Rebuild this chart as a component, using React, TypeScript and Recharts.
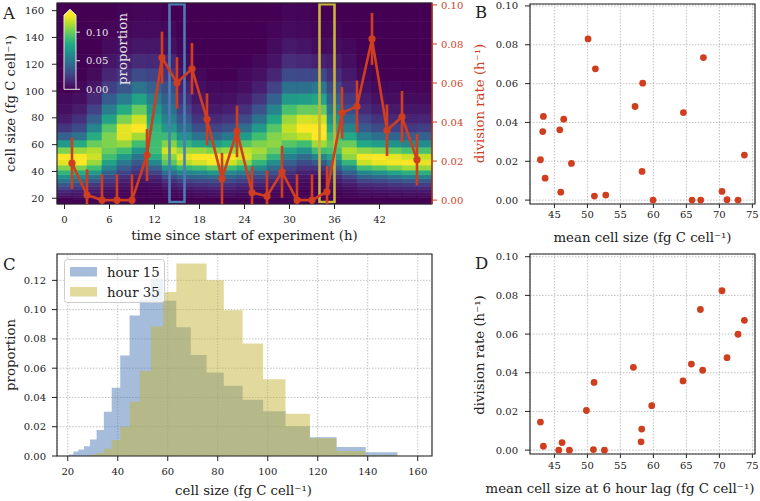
import React from "react";
import {
  Area,
  CartesianGrid,
  ComposedChart,
  ErrorBar,
  Legend,
  Line,
  ReferenceArea,
  Scatter,
  ScatterChart,
  XAxis,
  YAxis,
} from "recharts";

const FONT = "'DejaVu Serif', serif";
const INK = "#222222";
const RED = "#cf3f1f";
const BLUE = "#4b7cb5";
const KHAKI = "#c6b53a";
const GRID = "#b4b4b4";
const VMAX = 0.13;
const RATE_DOMAIN: [number, number] = [-0.002, 0.101];

// cell-size bin edges (fg C cell^-1), shared by the heatmap rows and the histogram
const sizeEdges = [
  15.7, 17.13, 18.69, 20.4, 22.26, 24.29, 26.5, 28.92, 31.56, 34.44, 37.58, 41.0, 44.74, 48.82,
  53.28, 58.14, 63.44, 69.23, 75.54, 82.43, 89.95, 98.16, 107.11, 116.88, 127.54, 139.17, 151.86,
  165.71,
];

// heatmap column centres (h)
const heatHours = [0, 2, 4, 6, 8, 10, 12, 14, 16, 18, 20, 22, 24, 26, 28, 30, 32, 34, 36, 38, 40, 42, 44, 46, 48];

// proportion per size bin (x1000), one list per heatmap column
const heatCols = [
  [0, 0, 0, 5, 10, 15, 25, 35, 50, 65, 85, 105, 125, 130, 105, 70, 40, 20, 10, 5, 3, 0, 0, 0, 0, 0, 0],
  [0, 0, 3, 5, 8, 12, 20, 30, 45, 60, 80, 105, 130, 130, 110, 80, 50, 30, 18, 10, 5, 3, 0, 0, 0, 0, 0],
  [0, 0, 3, 4, 7, 10, 15, 22, 35, 50, 70, 90, 110, 120, 115, 100, 80, 60, 40, 25, 15, 8, 4, 2, 0, 0, 0],
  [0, 0, 0, 2, 4, 6, 9, 14, 20, 30, 42, 58, 75, 90, 100, 105, 105, 95, 75, 55, 38, 24, 14, 8, 4, 2, 0],
  [0, 0, 0, 0, 2, 3, 5, 8, 12, 18, 26, 38, 52, 70, 90, 110, 125, 125, 105, 80, 55, 35, 20, 11, 6, 3, 1],
  [0, 0, 0, 0, 0, 0, 2, 4, 7, 11, 17, 25, 36, 50, 68, 90, 112, 130, 120, 100, 75, 50, 30, 16, 8, 4, 2],
  [0, 0, 0, 0, 0, 2, 3, 5, 9, 15, 25, 40, 60, 80, 90, 90, 88, 85, 78, 68, 55, 40, 26, 15, 8, 4, 2],
  [0, 0, 0, 1, 3, 4, 7, 11, 18, 30, 47, 69, 96, 107, 121, 106, 88, 69, 57, 48, 39, 31, 20, 13, 6, 3, 0],
  [0, 0, 0, 2, 4, 6, 10, 16, 25, 40, 60, 85, 115, 125, 110, 85, 65, 48, 36, 26, 18, 12, 7, 4, 2, 0, 0],
  [0, 0, 0, 2, 4, 7, 11, 18, 28, 42, 62, 90, 122, 130, 110, 75, 50, 32, 20, 13, 8, 5, 3, 0, 0, 0, 0],
  [0, 0, 0, 3, 5, 8, 13, 20, 30, 45, 68, 98, 128, 130, 105, 70, 42, 25, 15, 9, 5, 3, 0, 0, 0, 0, 0],
  [0, 0, 0, 3, 5, 8, 12, 18, 28, 42, 62, 90, 120, 128, 110, 80, 52, 32, 19, 11, 6, 3, 0, 0, 0, 0, 0],
  [0, 0, 0, 2, 4, 7, 10, 15, 24, 36, 54, 80, 108, 122, 118, 95, 70, 48, 30, 18, 10, 5, 3, 0, 0, 0, 0],
  [0, 0, 0, 2, 3, 5, 8, 12, 18, 28, 42, 62, 85, 105, 112, 105, 90, 70, 50, 33, 20, 11, 6, 3, 0, 0, 0],
  [0, 0, 0, 0, 2, 4, 6, 9, 14, 22, 32, 46, 64, 84, 100, 108, 106, 95, 78, 58, 40, 25, 14, 7, 4, 2, 0],
  [0, 0, 0, 0, 0, 2, 3, 5, 8, 12, 18, 27, 40, 56, 75, 95, 112, 118, 110, 92, 70, 48, 30, 17, 9, 4, 2],
  [0, 0, 0, 0, 0, 0, 2, 3, 5, 8, 12, 19, 30, 45, 65, 90, 118, 132, 122, 100, 72, 48, 28, 15, 7, 3, 1],
  [0, 0, 0, 0, 0, 0, 0, 1, 2, 5, 11, 20, 37, 58, 89, 112, 132, 132, 120, 100, 77, 53, 29, 12, 4, 1, 0],
  [0, 0, 0, 0, 0, 2, 4, 6, 10, 16, 25, 38, 55, 75, 92, 98, 92, 80, 66, 52, 40, 28, 18, 10, 5, 2, 0],
  [0, 0, 0, 0, 2, 4, 6, 10, 16, 26, 40, 60, 85, 108, 115, 100, 78, 58, 42, 30, 21, 14, 9, 5, 3, 0, 0],
  [0, 0, 0, 2, 4, 6, 10, 16, 26, 40, 60, 90, 120, 128, 108, 78, 55, 37, 25, 16, 10, 6, 3, 0, 0, 0, 0],
  [0, 0, 0, 2, 4, 7, 11, 17, 28, 44, 66, 96, 126, 130, 105, 72, 48, 30, 19, 11, 6, 3, 0, 0, 0, 0, 0],
  [0, 0, 0, 3, 5, 8, 13, 20, 32, 50, 75, 105, 128, 125, 98, 65, 42, 25, 15, 9, 5, 3, 0, 0, 0, 0, 0],
  [0, 0, 0, 3, 6, 9, 14, 22, 35, 55, 82, 112, 130, 120, 92, 60, 38, 22, 13, 8, 4, 2, 0, 0, 0, 0, 0],
  [0, 0, 0, 3, 6, 9, 15, 23, 36, 56, 82, 110, 125, 118, 92, 62, 40, 24, 14, 8, 4, 2, 0, 0, 0, 0, 0],
];

// division rate time series (panel A, right axis)
const hours = [1, 3, 5, 7, 9, 11, 13, 15, 17, 19, 21, 23, 25, 27, 29, 31, 33, 35, 37, 39, 41, 43, 45, 47];
const divRate = [
  0.0189, 0.0026, 0, 0, 0, 0.0231, 0.073, 0.0601, 0.0673, 0.0414, 0.011, 0.0352, 0.0039, 0.002,
  0.0145, 0, 0, 0.0043, 0.0447, 0.048, 0.0826, 0.0358, 0.0427, 0.0207,
];
const divErr = [
  0.0132, 0.0132, 0.0132, 0.0132, 0.0132, 0.0133, 0.0133, 0.0132, 0.0132, 0.0133, 0.0132, 0.0132,
  0.0133, 0.0132, 0.0133, 0.0132, 0.0132, 0.0132, 0.0132, 0.0133, 0.0133, 0.0132, 0.0132, 0.0132,
];
const boxHours = [15, 35];

// panel B: mean cell size vs division rate
const bSize = [
  42.88, 43.33, 43.23, 43.59, 45.81, 46.41, 45.96, 47.58, 50.1, 51.21, 51.06, 52.78, 57.22, 58.38,
  58.28, 59.95, 64.55, 65.86, 67.17, 67.58, 70.4, 71.16, 72.83, 73.79,
];
const bRate = [
  0.0208, 0.0431, 0.0353, 0.0113, 0.0362, 0.0417, 0.0041, 0.0189, 0.083, 0.0676, 0.0021, 0.0026,
  0.0482, 0.0602, 0.0148, 0, 0.0451, 0, 0, 0.0734, 0.0045, 0.0002, 0, 0.0232,
];

// panel D: mean cell size 6 h earlier vs division rate
const dSize = [
  42.88, 43.33, 45.66, 46.16, 47.27, 49.85, 50.91, 51.01, 52.58, 56.97, 58.13, 58.23, 59.75, 64.49,
  65.76, 67.12, 67.47, 70.4, 71.16, 72.83, 73.79,
];
const dRate = [
  0.0145, 0.002, 0, 0.0039, 0, 0.0205, 0.0003, 0.035, 0, 0.0428, 0.0043, 0.0109, 0.023, 0.0358,
  0.0445, 0.0727, 0.0413, 0.0824, 0.0478, 0.0599, 0.0671,
];

// panel C: size distributions (proportion per bin of sizeEdges)
const hour15 = [
  0, 0, 0, 0.001, 0.003, 0.0044, 0.0067, 0.0113, 0.0177, 0.0302, 0.0467, 0.0687, 0.096, 0.107,
  0.121, 0.106, 0.088, 0.069, 0.057, 0.048, 0.0385, 0.0305, 0.0204, 0.0128, 0.0062, 0.0025, 0,
];
const hour35 = [
  0, 0, 0, 0, 0, 0, 0, 0.001, 0.002, 0.005, 0.011, 0.02, 0.037, 0.058, 0.0885, 0.112, 0.1315,
  0.1315, 0.12, 0.0996, 0.0769, 0.0525, 0.0289, 0.0122, 0.0035, 0.0005, 0,
];

const hourTicks = [0, 6, 12, 18, 24, 30, 36, 42];
const sizeTicks = [20, 40, 60, 80, 100, 120, 140, 160];
const rateTicks = [0, 0.02, 0.04, 0.06, 0.08, 0.1];
const meanTicks = [45, 50, 55, 60, 65, 70, 75];
const propTicks = [0, 0.02, 0.04, 0.06, 0.08, 0.1, 0.12];

const VIRIDIS = [
  "#440154", "#482475", "#414487", "#355f8d", "#2a788e", "#21918c",
  "#22a884", "#44bf70", "#7ad151", "#bddf26", "#fde725",
];

function viridis(f: number): string {
  const p = Math.max(0, Math.min(1, f)) * 10;
  const i = Math.min(9, Math.floor(p));
  const t = p - i;
  const a = VIRIDIS[i];
  const b = VIRIDIS[i + 1];
  const ch = (h: string, o: number) => parseInt(h.slice(o, o + 2), 16);
  const mix = (o: number) => Math.round(ch(a, o) + (ch(b, o) - ch(a, o)) * t);
  return `rgb(${mix(1)},${mix(3)},${mix(5)})`;
}

const fmt2 = (v: number) => v.toFixed(2);
const tickTxt = { fontSize: 10, fill: INK, fontFamily: FONT };
const tickLn = { stroke: INK, strokeWidth: 1 };

function PanelA() {
  // error bars stop at the bottom of the axes, as matplotlib clips them
  const lineData = hours.map((t, i) => ({
    t,
    rate: divRate[i],
    err: [Math.min(divErr[i], divRate[i] - RATE_DOMAIN[0]), divErr[i]],
  }));
  const cells: React.ReactNode[] = [];
  heatCols.forEach((col, c) =>
    col.forEach((v, k) => {
      const color = viridis(v / 1000 / VMAX);
      cells.push(
        <ReferenceArea
          key={`h${c}-${k}`}
          yAxisId="size"
          x1={heatHours[c] - 1}
          x2={heatHours[c] + 1}
          y1={sizeEdges[k]}
          y2={sizeEdges[k + 1]}
          fill={color}
          fillOpacity={1}
          stroke={color}
          strokeWidth={0.6}
          ifOverflow="visible"
        />
      );
    })
  );
  const last = sizeEdges.length - 1;
  return (
    <div style={{ position: "absolute", left: 0, top: 0 }}>
      <ComposedChart width={490} height={250} data={lineData} margin={{ top: 3, right: 0, bottom: 0, left: 0 }}>
        <XAxis
          type="number"
          dataKey="t"
          domain={[-1, 49]}
          ticks={hourTicks}
          interval={0}
          allowDataOverflow
          height={46}
          axisLine={false}
          tickLine={tickLn}
          tickSize={5}
          tickMargin={7}
          tick={tickTxt}
        />
        <YAxis
          yAxisId="size"
          type="number"
          domain={[sizeEdges[0], sizeEdges[last]]}
          ticks={sizeTicks}
          interval={0}
          allowDataOverflow
          width={57}
          axisLine={false}
          tickLine={tickLn}
          tickSize={5}
          tickMargin={8}
          tick={tickTxt}
        />
        <YAxis
          yAxisId="rate"
          orientation="right"
          type="number"
          domain={RATE_DOMAIN}
          ticks={rateTicks}
          interval={0}
          allowDataOverflow
          width={58}
          axisLine={{ stroke: RED, strokeWidth: 1.1 }}
          tickLine={{ stroke: RED, strokeWidth: 1 }}
          tickSize={5}
          tickMargin={4}
          tick={{ ...tickTxt, fill: RED }}
          tickFormatter={fmt2}
        />
        {cells}
        {boxHours.map((h, i) => (
          <ReferenceArea
            key={`box${h}`}
            yAxisId="size"
            x1={h - 1}
            x2={h + 1}
            y1={17.2}
            y2={164.9}
            fill="none"
            stroke={i === 0 ? BLUE : KHAKI}
            strokeWidth={2.6}
            ifOverflow="visible"
          />
        ))}
        <ReferenceArea
          yAxisId="size"
          x1={-1}
          x2={49}
          y1={sizeEdges[0]}
          y2={sizeEdges[last]}
          fill="none"
          stroke={INK}
          strokeWidth={1.1}
          ifOverflow="visible"
        />
        <Line
          yAxisId="rate"
          dataKey="rate"
          stroke={RED}
          strokeWidth={2.6}
          dot={{ r: 3.6, fill: RED, stroke: RED, strokeWidth: 0 }}
          activeDot={false}
          isAnimationActive={false}
        >
          <ErrorBar dataKey="err" direction="y" width={0} stroke={RED} strokeWidth={2.6} isAnimationActive={false} />
        </Line>
      </ComposedChart>
    </div>
  );
}

const dotShape = (p: any) => <circle cx={p.cx} cy={p.cy} r={3.4} fill={RED} />;

function RatePanel({
  top,
  height,
  xs,
  ys,
  yDomain,
  xTickMargin,
}: {
  top: number;
  height: number;
  xs: number[];
  ys: number[];
  yDomain: [number, number];
  xTickMargin: number;
}) {
  const pts = xs.map((x, i) => ({ x, y: ys[i] }));
  const xDomain: [number, number] = [41.3, 75.4];
  return (
    <div style={{ position: "absolute", left: 450, top }}>
      <ScatterChart width={310} height={height} margin={{ top: 4, right: 5, bottom: 0, left: 0 }}>
        <CartesianGrid stroke={GRID} strokeDasharray="1.5 1.5" strokeWidth={0.8} />
        <XAxis
          type="number"
          dataKey="x"
          domain={xDomain}
          ticks={meanTicks}
          interval={0}
          allowDataOverflow
          height={height - 204}
          axisLine={false}
          tickLine={tickLn}
          tickSize={4}
          tickMargin={xTickMargin}
          tick={tickTxt}
        />
        <YAxis
          type="number"
          dataKey="y"
          domain={yDomain}
          ticks={rateTicks}
          interval={0}
          allowDataOverflow
          width={80}
          axisLine={false}
          tickLine={tickLn}
          tickSize={5}
          tickMargin={7}
          tick={tickTxt}
          tickFormatter={fmt2}
        />
        <ReferenceArea
          x1={xDomain[0]}
          x2={xDomain[1]}
          y1={yDomain[0]}
          y2={yDomain[1]}
          fill="none"
          stroke={INK}
          strokeWidth={1.1}
          ifOverflow="visible"
        />
        <Scatter data={pts} shape={dotShape} isAnimationActive={false} />
      </ScatterChart>
    </div>
  );
}

function HistLegend() {
  const rows = [
    { name: "hour 15", color: BLUE },
    { name: "hour 35", color: KHAKI },
  ];
  return (
    <svg width={101} height={44} style={{ display: "block" }}>
      <rect x={0.5} y={0.5} width={100} height={43} rx={3} fill="#ffffff" fillOpacity={0.8} stroke="#cccccc" />
      {rows.map((r, i) => (
        <g key={r.name}>
          <rect x={6} y={8 + i * 20} width={27} height={9.5} fill={r.color} fillOpacity={0.5} />
          <text x={43} y={17.5 + i * 20} fontSize={13.3} fontFamily={FONT} fill={INK}>
            {r.name}
          </text>
        </g>
      ))}
    </svg>
  );
}

function PanelC() {
  const last = sizeEdges.length - 1;
  const histData = sizeEdges.map((x, k) => ({
    x,
    h15: k < hour15.length ? hour15[k] : 0,
    h35: k < hour35.length ? hour35[k] : 0,
  }));
  return (
    <div style={{ position: "absolute", left: 0, top: 250 }}>
      <ComposedChart width={450} height={251} data={histData} margin={{ top: 4, right: 18, bottom: 0, left: 0 }}>
        <CartesianGrid stroke={GRID} strokeDasharray="1.5 1.5" strokeWidth={0.8} />
        <XAxis
          type="number"
          dataKey="x"
          domain={[sizeEdges[0], sizeEdges[last]]}
          ticks={sizeTicks}
          interval={0}
          allowDataOverflow
          height={45}
          axisLine={false}
          tickLine={tickLn}
          tickSize={5}
          tickMargin={7}
          tick={tickTxt}
        />
        <YAxis
          type="number"
          domain={[0, 0.138]}
          ticks={propTicks}
          interval={0}
          allowDataOverflow
          width={57}
          axisLine={false}
          tickLine={tickLn}
          tickSize={5}
          tickMargin={6}
          tick={tickTxt}
          tickFormatter={fmt2}
        />
        <Area type="stepAfter" dataKey="h15" fill={BLUE} fillOpacity={0.5} stroke="none" isAnimationActive={false} />
        <Area type="stepAfter" dataKey="h35" fill={KHAKI} fillOpacity={0.5} stroke="none" isAnimationActive={false} />
        <ReferenceArea
          x1={sizeEdges[0]}
          x2={sizeEdges[last]}
          y1={0}
          y2={0.138}
          fill="none"
          stroke={INK}
          strokeWidth={1.1}
          ifOverflow="visible"
        />
        <Legend
          layout="horizontal"
          verticalAlign="middle"
          align="center"
          wrapperStyle={{ left: 64, top: 9, width: 101, height: 44 }}
          content={() => <HistLegend />}
        />
      </ComposedChart>
    </div>
  );
}

function Overlay() {
  const title = { fontSize: 13.3, fontFamily: FONT, fill: INK, textAnchor: "middle" as const };
  const cbTop = 15;
  const cbBottom = 89.3;
  const cbY = (v: number) => cbBottom - (v / VMAX) * (cbBottom - cbTop);
  return (
    <svg
      width={760}
      height={501}
      style={{ position: "absolute", left: 0, top: 0, pointerEvents: "none" }}
    >
      <defs>
        <linearGradient id="cbar" x1="0" y1="1" x2="0" y2="0">
          {VIRIDIS.map((c, i) => (
            <stop key={c} offset={i / 10} stopColor={c} />
          ))}
        </linearGradient>
      </defs>
      {/* colour bar inset */}
      <rect x={64} y={cbTop} width={12} height={cbBottom - cbTop} fill="url(#cbar)" />
      <polygon points={`64,${cbTop} 76,${cbTop} 70,9.3`} fill={VIRIDIS[10]} />
      <path
        d={`M64,${cbBottom} L64,${cbTop} L70,9.3 L76,${cbTop} L76,${cbBottom} Z`}
        fill="none"
        stroke="#e6e6e6"
        strokeWidth={1}
      />
      {[0, 0.05, 0.1].map((v) => (
        <g key={v}>
          <line x1={76} x2={80} y1={cbY(v)} y2={cbY(v)} stroke="#e6e6e6" strokeWidth={1} />
          <text x={86} y={cbY(v) + 3.6} fontSize={10} fontFamily={FONT} fill="#e4e4e4">
            {v.toFixed(2)}
          </text>
        </g>
      ))}
      <text x={127} y={49} transform="rotate(-90 127 49)" {...title} fill="#e4e4e4">
        proportion
      </text>

      {/* panel letters */}
      <text x={3} y={18.5} fontSize={16.5} fontFamily={FONT} fill={INK}>A</text>
      <text x={475} y={17.5} fontSize={16.5} fontFamily={FONT} fill={INK}>B</text>
      <text x={3} y={270} fontSize={16.5} fontFamily={FONT} fill={INK}>C</text>
      <text x={475} y={268.5} fontSize={16.5} fontFamily={FONT} fill={INK}>D</text>

      {/* axis titles */}
      <text x={244.5} y={240} {...title}>time since start of experiment (h)</text>
      <text x={15} y={103.5} transform="rotate(-90 15 103.5)" {...title}>cell size (fg C cell⁻¹)</text>
      <text x={484} y={103.5} transform="rotate(-90 484 103.5)" {...title} fill={RED}>division rate (h⁻¹)</text>
      <text x={642.5} y={241.5} {...title}>mean cell size (fg C cell⁻¹)</text>
      <text x={243.5} y={494.5} {...title}>cell size (fg C cell⁻¹)</text>
      <text x={15} y={355} transform="rotate(-90 15 355)" {...title}>proportion</text>
      <text x={620} y={493} {...title}>mean cell size at 6 hour lag (fg C cell⁻¹)</text>
      <text x={484} y={355} transform="rotate(-90 484 355)" {...title}>division rate (h⁻¹)</text>
    </svg>
  );
}

export default function App() {
  return (
    <div
      style={{
        position: "absolute",
        left: 0,
        top: 0,
        width: 760,
        height: 501,
        background: "#ffffff",
        overflow: "hidden",
      }}
    >
      <PanelA />
      <RatePanel top={0} height={250} xs={bSize} ys={bRate} yDomain={[-0.002, 0.101]} xTickMargin={3} />
      <PanelC />
      <RatePanel top={250} height={251} xs={dSize} ys={dRate} yDomain={[-0.002, 0.1014]} xTickMargin={4} />
      <Overlay />
    </div>
  );
}
